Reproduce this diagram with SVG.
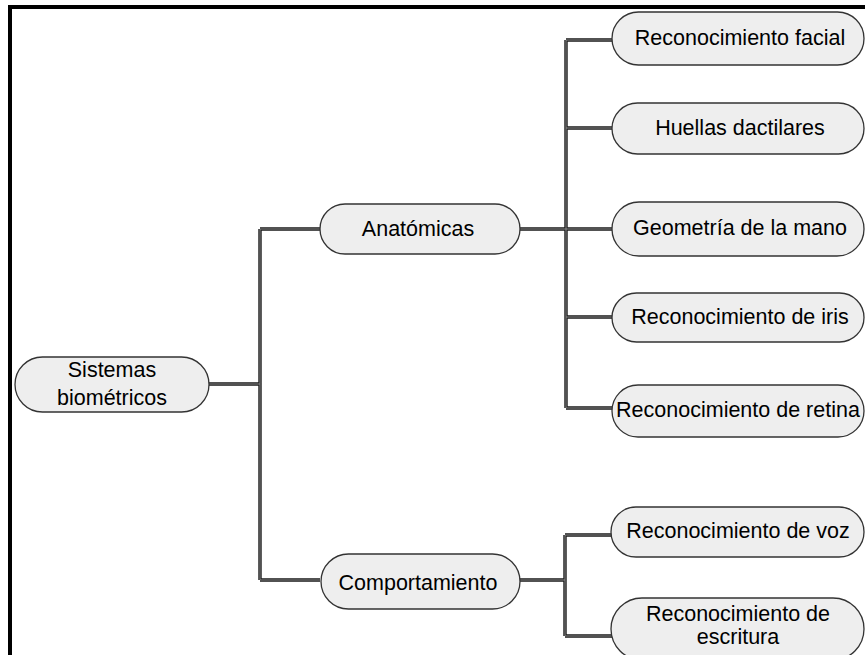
<svg xmlns="http://www.w3.org/2000/svg" width="865" height="655" viewBox="0 0 865 655">
  <style>
    .node rect { fill: #eeeeee; stroke: #333333; stroke-width: 1.3; }
    .node text { font-family: "Liberation Sans", Arial, sans-serif; font-size: 21.5px; fill: #000000; text-anchor: middle; }
    .wire-outer { fill: none; stroke: #1a1a1a; stroke-width: 3.4; stroke-linejoin: round; }
    .wire-inner { fill: none; stroke: #8a8a8a; stroke-width: 1; stroke-linejoin: round; }
  </style>
  <defs>
    <path id="tree" d="M209,384 H260 M260,229 V580 M260,229 H320 M260,580 H320
                       M520,229 H612 M566,40 V408 M566,40 H612 M566,128 H612 M566,317 H612 M566,408 H612
                       M520,580 H565 M565,535 V636 M565,535 H612 M565,636 H612"/>
  </defs>
  <rect width="865" height="655" fill="#ffffff"/>
  <!-- outer frame, right and bottom edges fall outside the canvas -->
  <rect x="10" y="7" width="900" height="700" fill="none" stroke="#000000" stroke-width="4"/>

  <g id="connectors">
    <use href="#tree" class="wire-outer"/>
    <use href="#tree" class="wire-inner"/>
  </g>

  <g id="sistemas" class="node">
    <rect x="15" y="357" width="194" height="55" rx="27.5"/>
    <text x="112" y="377">Sistemas</text>
    <text x="112" y="405">biométricos</text>
  </g>
  <g id="anatomicas" class="node">
    <rect x="320" y="204" width="200" height="50" rx="25"/>
    <text x="418" y="236">Anatómicas</text>
  </g>
  <g id="comportamiento" class="node">
    <rect x="321" y="554" width="199" height="55" rx="27.5"/>
    <text x="418" y="590">Comportamiento</text>
  </g>

  <g id="facial" class="node">
    <rect x="612" y="12" width="252" height="53" rx="26.5"/>
    <text x="740" y="45">Reconocimiento facial</text>
  </g>
  <g id="huellas" class="node">
    <rect x="612" y="103" width="252" height="51" rx="25.5"/>
    <text x="740" y="135">Huellas dactilares</text>
  </g>
  <g id="geometria" class="node">
    <rect x="612" y="202" width="252" height="54" rx="27"/>
    <text x="740" y="235">Geometría de la mano</text>
  </g>
  <g id="iris" class="node">
    <rect x="612" y="293" width="252" height="49" rx="24.5"/>
    <text x="740" y="324">Reconocimiento de iris</text>
  </g>
  <g id="retina" class="node">
    <rect x="612" y="385" width="252" height="52" rx="26"/>
    <text x="738" y="417">Reconocimiento de retina</text>
  </g>
  <g id="voz" class="node">
    <rect x="611" y="507" width="253" height="50" rx="25"/>
    <text x="738" y="538">Reconocimiento de voz</text>
  </g>
  <g id="escritura" class="node">
    <rect x="611" y="598" width="253" height="62" rx="31"/>
    <text x="738" y="621">Reconocimiento de</text>
    <text x="738" y="644">escritura</text>
  </g>
</svg>
